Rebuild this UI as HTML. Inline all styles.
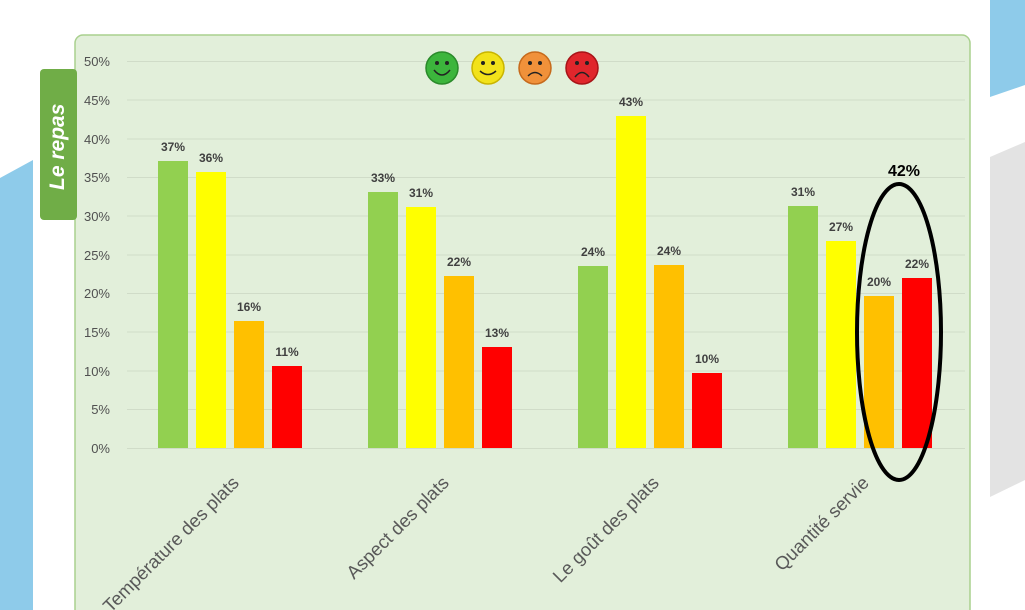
<!DOCTYPE html>
<html><head><meta charset="utf-8"><style>
html,body{margin:0;padding:0;background:#fff;}
svg{display:block;}
text{font-family:"Liberation Sans",sans-serif;}
</style></head><body>
<svg width="1025" height="610" viewBox="0 0 1025 610" xmlns="http://www.w3.org/2000/svg">
<rect width="1025" height="610" fill="#fff"/>
<polygon points="0,178 33,160 33,610 0,610" fill="#8ecbea"/>
<polygon points="990,0 1025,0 1025,85 990,97" fill="#8ecbea"/>
<polygon points="990,157 1025,142 1025,480 990,497" fill="#e3e3e3"/>
<rect x="75" y="35" width="895" height="600" rx="8" fill="#e2efda" stroke="#a9d08e" stroke-width="1.5"/>
<rect x="40" y="69" width="37" height="151" rx="4" fill="#70ad47"/>
<text transform="translate(64,190) rotate(-90)" font-size="21" font-style="italic" font-weight="bold" fill="#fff">Le repas</text>
<g stroke="#d0dcc8" stroke-width="1">
<line x1="127" x2="965" y1="61.5" y2="61.5"/><line x1="127" x2="965" y1="100" y2="100"/>
<line x1="127" x2="965" y1="139" y2="139"/><line x1="127" x2="965" y1="177.5" y2="177.5"/>
<line x1="127" x2="965" y1="216" y2="216"/><line x1="127" x2="965" y1="255" y2="255"/>
<line x1="127" x2="965" y1="293.5" y2="293.5"/><line x1="127" x2="965" y1="332" y2="332"/>
<line x1="127" x2="965" y1="371" y2="371"/><line x1="127" x2="965" y1="409.5" y2="409.5"/>
<line x1="127" x2="965" y1="448.5" y2="448.5"/>
</g>
<g font-size="13" fill="#505050" text-anchor="end">
<text x="110" y="66">50%</text><text x="110" y="105">45%</text><text x="110" y="144">40%</text>
<text x="110" y="182">35%</text><text x="110" y="221">30%</text><text x="110" y="260">25%</text>
<text x="110" y="298">20%</text><text x="110" y="337">15%</text><text x="110" y="376">10%</text>
<text x="110" y="414">5%</text><text x="110" y="453">0%</text>
</g>
<g>
<rect x="158" y="161" width="30" height="287" fill="#92d050"/>
<rect x="196" y="172" width="30" height="276" fill="#ffff00"/>
<rect x="234" y="321" width="30" height="127" fill="#ffc000"/>
<rect x="272" y="366" width="30" height="82" fill="#ff0000"/>
<rect x="368" y="192" width="30" height="256" fill="#92d050"/>
<rect x="406" y="207" width="30" height="241" fill="#ffff00"/>
<rect x="444" y="276" width="30" height="172" fill="#ffc000"/>
<rect x="482" y="347" width="30" height="101" fill="#ff0000"/>
<rect x="578" y="266" width="30" height="182" fill="#92d050"/>
<rect x="616" y="116" width="30" height="332" fill="#ffff00"/>
<rect x="654" y="265" width="30" height="183" fill="#ffc000"/>
<rect x="692" y="373" width="30" height="75" fill="#ff0000"/>
<rect x="788" y="206" width="30" height="242" fill="#92d050"/>
<rect x="826" y="241" width="30" height="207" fill="#ffff00"/>
<rect x="864" y="296" width="30" height="152" fill="#ffc000"/>
<rect x="902" y="278" width="30" height="170" fill="#ff0000"/>
</g>
<g font-size="12" font-weight="bold" fill="#404040" text-anchor="middle">
<text x="173" y="151">37%</text><text x="211" y="162">36%</text><text x="249" y="311">16%</text><text x="287" y="356">11%</text>
<text x="383" y="182">33%</text><text x="421" y="197">31%</text><text x="459" y="266">22%</text><text x="497" y="337">13%</text>
<text x="593" y="256">24%</text><text x="631" y="106">43%</text><text x="669" y="255">24%</text><text x="707" y="363">10%</text>
<text x="803" y="196">31%</text><text x="841" y="231">27%</text><text x="879" y="286">20%</text><text x="917" y="268">22%</text>
</g>
<ellipse cx="899" cy="332" rx="42" ry="148" fill="none" stroke="#000" stroke-width="4"/>
<text x="904" y="176" font-size="16" font-weight="bold" fill="#000" text-anchor="middle">42%</text>
<g font-size="18.5" fill="#595959" text-anchor="end">
<text transform="translate(240,484) rotate(-45)">Température des plats</text>
<text transform="translate(450,484) rotate(-45)">Aspect des plats</text>
<text transform="translate(660,484) rotate(-45)">Le goût des plats</text>
<text transform="translate(870,484) rotate(-45)">Quantité servie</text>
</g>
<g stroke-width="1.5">
<circle cx="442" cy="68" r="16" fill="#3cb53c" stroke="#2a8a2a"/>
<circle cx="488" cy="68" r="16" fill="#f2e21a" stroke="#c9b400"/>
<circle cx="535" cy="68" r="16" fill="#f0913a" stroke="#c66a1c"/>
<circle cx="582" cy="68" r="16" fill="#e0262c" stroke="#a81418"/>
</g>
<g fill="#222">
<circle cx="437" cy="63" r="2"/><circle cx="447" cy="63" r="2"/>
<circle cx="483" cy="63" r="2"/><circle cx="493" cy="63" r="2"/>
<circle cx="530" cy="63" r="2"/><circle cx="540" cy="63" r="2"/>
<circle cx="577" cy="63" r="2"/><circle cx="587" cy="63" r="2"/>
</g>
<g fill="none" stroke="#222" stroke-width="1.5">
<path d="M434,70 Q442,80 450,70"/><path d="M480,71 Q488,78 496,71"/>
<path d="M528,76 Q535,69 542,76"/><path d="M575,77 Q582,68 589,77"/>
</g>
</svg>
</body></html>
